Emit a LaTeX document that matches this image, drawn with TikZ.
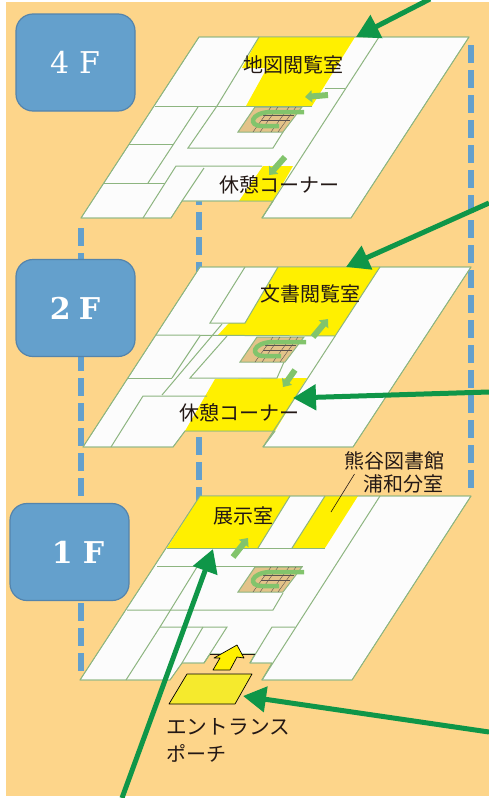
\documentclass[tikz,border=0pt]{standalone}
\usepackage{fontspec}
\newfontfamily\jpfont{Noto Sans CJK JP}
\newfontfamily\namefont{DejaVu Serif}
\usetikzlibrary{arrows.meta}
\definecolor{bgorange}{HTML}{FDD58A}
\definecolor{pillar}{HTML}{64A0CC}
\definecolor{pillaredge}{HTML}{5484AC}
\definecolor{floorline}{HTML}{8DB580}
\definecolor{floorfill}{HTML}{FCFCFC}
\definecolor{roomyellow}{HTML}{FFF000}
\definecolor{porchyellow}{HTML}{F5EA2D}
\definecolor{routegreen}{HTML}{0F9648}
\definecolor{stepgreen}{HTML}{82C46C}
\definecolor{stairtan}{HTML}{E3C389}
\definecolor{inkdark}{HTML}{231815}
\tikzset{
  x=1pt,y=-1pt,
  floorshape/.style={fill=floorfill,draw=floorline,line width=0.8pt,line join=round},
  wall/.style={draw=floorline,line width=1pt},
  room/.style={fill=roomyellow},
  column/.style={draw=pillar,line width=6pt,dash pattern=on 18pt off 7pt},
  floorbox/.style={fill=pillar,draw=pillaredge,line width=1.2pt,rounded corners=17pt},
  floorname/.style={text=white,font=\namefont\fontsize{30}{30}\selectfont,inner sep=0pt},
  jp/.style={text=inkdark,font=\jpfont\fontsize{20}{20}\selectfont,inner sep=0pt},
  jpwide/.style={text=inkdark,font=\jpfont\fontsize{20.7}{20.7}\selectfont,inner sep=0pt},
  route/.style={draw=routegreen,line width=5pt,-{Triangle[length=23pt,width=25pt]}},
  stepmark/.style={draw=stepgreen,line width=6pt,-{Triangle[length=7pt,width=12pt]}},
  flight/.style={draw=stepgreen,line width=4.5pt},
  hatch/.style={draw=inkdark!75!white,line width=0.4pt},
}
\newcommand{\stairs}[2]{%
  \begin{scope}[shift={(#1,#2)}]
    \fill[stairtan,draw=floorline,line width=1pt] (238,132)--(283,132)--(302,107)--(255,107)--cycle;
    \foreach \d in {0,7,18,25}{\draw[hatch] (271+\d,107)--(253+\d,132);}
    \draw[hatch] (263,115)--(294,115);
    \draw[hatch] (261,120)--(290,120);
    \draw[flight] (304,112)--(270,112) .. controls (250,113) and (248,126) .. (262,126)--(279,126);
  \end{scope}}
\begin{document}
\begin{tikzpicture}
\useasboundingbox (0,0) rectangle (489,798);
\fill[white] (0,0) rectangle (489,798);
\fill[bgorange] (6,2) rectangle (489,796);

% dashed columns
\coordinate (c1a) at (81,228); \coordinate (c1b) at (81,673);
\coordinate (c2a) at (199,187); \coordinate (c2b) at (199,505);
\coordinate (c3a) at (471,45); \coordinate (c3b) at (471,490);
\draw[column] (c1a)--(c1b);
\draw[column] (c2a)--(c2b);
\draw[column] (c3a)--(c3b);

% 4F plan
\fill[floorshape] (199,37)--(469,37)--(351,218)--(262,218)--(273,201)--(182,201)--(171,218)--(81,218)--cycle;
\fill[room] (259,37)--(355,37)--(312,106)--(246,106)--(267,68)--(242,68)--cycle;
\fill[room] (263,166)--(293,166)--(273,201)--(239,201)--cycle;
\draw[floorshape,fill=none] (199,37)--(469,37)--(351,218)--(262,218)--(273,201)--(182,201)--(171,218)--(81,218)--cycle;
\draw[wall] (379,37)--(262,218);
\draw[wall] (259,37)--(217,106);
\draw[wall] (155,106)--(312,106);
\draw[wall] (198,107)--(148,183);
\draw[wall] (217,106)--(188,148)--(273,148)--(283,132);
\draw[wall] (129,144)--(173,144);
\draw[wall] (103,183)--(165,183);
\draw[wall] (143,218)--(176,166)--(262,166);
\draw[wall] (204,168)--(182,201);
\draw[wall] (345,88)--(325,88);
\stairs{0}{0}
\draw[stepmark] (328,95)--(305,97);
\draw[stepmark] (285,157)--(269,175);

% 2F plan
\fill[floorshape] (200,267)--(471,267)--(353,447)--(263,447)--(275,431)--(185,431)--(173,447)--(83,447)--cycle;
\fill[room] (278,267)--(380,267)--(335,336)--(218,335)--(229,323)--(245,323)--cycle;
\fill[room] (215,379)--(307,378)--(275,431)--(185,431)--cycle;
\draw[floorshape,fill=none] (200,267)--(471,267)--(353,447)--(263,447)--(275,431)--(185,431)--(173,447)--(83,447)--cycle;
\draw[wall] (380,267)--(263,447);
\draw[wall] (245,267)--(210,323)--(245,323)--(278,267);
\draw[wall] (156,335)--(335,336);
\draw[wall] (222,324)--(162,395);
\draw[wall] (200,336)--(172,378);
\draw[wall] (128,378)--(172,378);
\draw[wall] (227,336)--(190,378)--(277,378)--(284,362);
\draw[wall] (111,447)--(143,396)--(207,396);
\stairs{2}{230}
\draw[stepmark] (313,337)--(328,319);
\draw[stepmark] (295,370)--(283,387);

% 1F plan
\fill[floorshape] (200,496)--(471,496)--(352,680)--(262,680)--(272,663)--(250,663)--(255,654)--(210,654)--(204,663)--(182,663)--(170,680)--(80,680)--cycle;
\fill[room] (200,496)--(290,496)--(258,548)--(167,548)--cycle;
\fill[room] (325,496)--(358,496)--(325,548)--(292,548)--cycle;
\draw[floorshape,fill=none] (200,496)--(471,496)--(352,680)--(262,680)--(272,663)--(250,663)--(255,654)--(210,654)--(204,663)--(182,663)--(170,680)--(80,680)--cycle;
\draw[wall] (380,496)--(262,680);
\draw[wall] (167,548)--(325,548);
\draw[wall] (290,496)--(258,548);
\draw[wall] (325,496)--(292,548);
\draw[wall] (157,566)--(303,566);
\draw[wall] (197,567)--(160,627);
\draw[wall] (127,610)--(273,610)--(283,593);
\draw[wall] (126,680)--(160,627)--(227,627)--(204,663);
\draw[wall] (203,627)--(182,663);
\draw[wall] (250,663)--(272,627)--(295,627);
\draw[draw=inkdark,line width=0.8pt] (210,654)--(255,654);
\stairs{0}{460}
\draw[stepmark] (233,557)--(248,538);

% entrance porch and way in
\draw[fill=porchyellow,draw=black,line width=0.7pt,line join=round] (187,674)--(252,674)--(235,704)--(169,704)--cycle;
\draw[fill=roomyellow,draw=black,line width=0.7pt,line join=round] (213,670)--(220,658)--(214,658)--(237,645)--(244,658)--(237,657)--(230,670)--cycle;

% floor boxes
\node[floorbox,minimum width=119pt,minimum height=97pt,inner sep=0pt] (box4) at (75.5,62.5) {};
\node[floorbox,minimum width=119pt,minimum height=97pt,inner sep=0pt] (box2) at (75.5,308) {};
\node[floorbox,minimum width=119pt,minimum height=97pt,inner sep=0pt] (box1) at (69.5,552) {};
\node[floorname] (name4) at (75,62) {4\hspace{10pt}F};
\node[floorname] (name2) at (75,308) {\textbf{2\hspace{8pt}F}};
\node[floorname] (name1) at (78,552) {\textbf{1\hspace{10pt}F}};

% labels
\node[jp] (mapr) at (293,65) {地図閲覧室};
\node[jp] (rest4) at (279,185) {休憩コーナー};
\node[jp] (docr) at (310,294) {文書閲覧室};
\node[jp] (rest2) at (239,413) {休憩コーナー};
\node[jp] (kuma) at (394,461) {熊谷図書館};
\node[jp] (ura) at (403,484) {浦和分室};
\node[jp] (exh) at (243,516) {展示室};
\node[jpwide,anchor=west] (ent) at (166,727) {エントランス};
\node[jp,anchor=west] (por) at (166,753) {ポーチ};
\coordinate (slasha) at (354.5,474); \coordinate (slashb) at (331,512);
\draw[inkdark,line width=0.6pt] (slasha)--(slashb);

% route arrows
\coordinate (r1a) at (430,-1); \coordinate (r1b) at (356,37);
\coordinate (r2a) at (489,203); \coordinate (r2b) at (346,267);
\coordinate (r3a) at (489,392); \coordinate (r3b) at (293,398);
\coordinate (r4a) at (122,798); \coordinate (r4b) at (213,549);
\coordinate (r5a) at (489,732); \coordinate (r5b) at (243,696);
\draw[route] (r1a)--(r1b);
\draw[route] (r2a)--(r2b);
\draw[route] (r3a)--(r3b);
\draw[route] (r4a)--(r4b);
\draw[route] (r5a)--(r5b);
\end{tikzpicture}
\end{document}
